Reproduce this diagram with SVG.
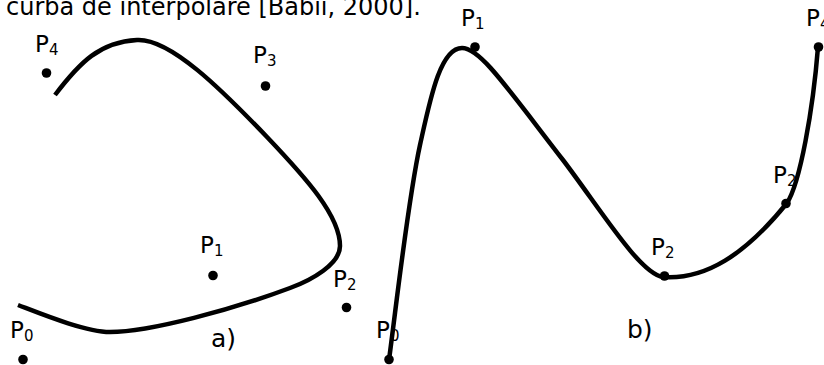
<svg xmlns="http://www.w3.org/2000/svg" width="824" height="365" viewBox="0 0 824 365">
<style>
text{font-family:"DejaVu Sans","Liberation Sans",sans-serif;fill:#000}
.lbl{font-size:23px}
.sub{font-size:15px}
.cap{font-size:25px}
.title{font-size:24px}
.dot{fill:#000}
.curve{fill:none;stroke:#000;stroke-width:4.5}
</style>
<rect width="824" height="365" fill="#fff"/>
<text class="title" x="6" y="15">curba de interpolare [Babii, 2000].</text>
<g id="curves">
<path id="curve-a" class="curve" d="M55,95 C80,62 100,42 137,40 C170,38 222,90 267,137 C307,179 340,216 340,246 C340,264 312,280 290,288 C234,309 150,332 110,332 C85,332 39,313 18,305"/>
<path id="curve-b" class="curve" d="M389,360 C397,300 408,200 420,145 C430,100 440,48 462,48 C480,48 505,85 563,160 C601,210 640,274 663,277 C705,280 745,255 787,203 C800,183 813,110 818,47"/>
</g>
<g id="a-P4"><circle class="dot" cx="46.5" cy="73" r="4.8"/><text class="lbl" x="35" y="52">P<tspan class="sub" dy="3">4</tspan></text></g>
<g id="a-P3"><circle class="dot" cx="265.5" cy="86" r="4.8"/><text class="lbl" x="253" y="63">P<tspan class="sub" dy="3">3</tspan></text></g>
<g id="a-P1"><circle class="dot" cx="213" cy="275.5" r="4.8"/><text class="lbl" x="200" y="253">P<tspan class="sub" dy="3">1</tspan></text></g>
<g id="a-P2"><circle class="dot" cx="346.5" cy="307.5" r="4.8"/><text class="lbl" x="333" y="287">P<tspan class="sub" dy="3">2</tspan></text></g>
<g id="a-P0"><circle class="dot" cx="23" cy="359.5" r="4.8"/><text class="lbl" x="10" y="338">P<tspan class="sub" dy="3">0</tspan></text></g>
<g id="label-a"><text class="cap" x="211" y="347">a)</text></g>
<g id="b-P0"><circle class="dot" cx="389" cy="359.5" r="4.8"/><text class="lbl" x="376" y="338">P<tspan class="sub" dy="3">0</tspan></text></g>
<g id="b-P1"><circle class="dot" cx="475" cy="47" r="4.8"/><text class="lbl" x="461" y="26">P<tspan class="sub" dy="3">1</tspan></text></g>
<g id="b-P2a"><circle class="dot" cx="664.5" cy="276" r="4.8"/><text class="lbl" x="651" y="255">P<tspan class="sub" dy="3">2</tspan></text></g>
<g id="b-P2b"><circle class="dot" cx="786" cy="203.5" r="4.8"/><text class="lbl" x="773" y="183">P<tspan class="sub" dy="3">2</tspan></text></g>
<g id="b-P4"><circle class="dot" cx="818.5" cy="47" r="4.8"/><text class="lbl" x="806" y="26">P<tspan class="sub" dy="3">4</tspan></text></g>
<g id="label-b"><text class="cap" x="627" y="338">b)</text></g>
</svg>
